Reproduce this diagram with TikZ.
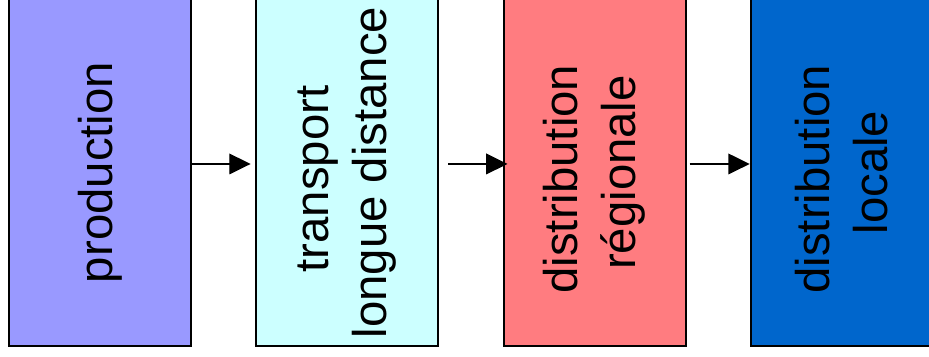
\documentclass[tikz,border=0pt]{standalone}
\usepackage{fontspec}
\setmainfont{Liberation Sans}
\usetikzlibrary{arrows.meta}

\definecolor{prodfill}{HTML}{9999FF}
\definecolor{transfill}{HTML}{CCFFFF}
\definecolor{regfill}{HTML}{FF7C80}
\definecolor{locfill}{HTML}{0066CC}

\tikzset{
  stage/.style={draw, line width=1.5pt, inner sep=0pt,
    minimum width=136.5pt, minimum height=260.25pt},
  stagetext/.style={rotate=90, align=center, inner sep=0pt,
    font=\fontsize{35.5pt}{43.5pt}\selectfont},
  flow/.style={line width=1pt, -{Triangle[length=16pt,width=15.5pt]}}
}

\begin{document}
\begin{tikzpicture}[x=0.75pt,y=0.75pt]
  \useasboundingbox (0,0) rectangle (929,357);
  \clip (0,0) rectangle (929,357);

  %Boxes
  \node [stage, fill=prodfill] (prod) at (100.25,184.5) {};
  \node [stage, fill=transfill] (trans) at (347.3,184.5) {};
  \node [stage, fill=regfill] (reg) at (594.5,184.5) {};
  \node [stage, fill=locfill] (loc) at (841.7,184.5) {};

  % Text Nodes
  \node [stagetext] (prodtxt) at (prod.center) {production};
  \node [stagetext] (transtxt) at (trans.center) {transport\kern.28em\\longue distance};
  \node [stagetext] (regtxt) at (reg.center) {distribution\kern.28em\\régionale};
  \node [stagetext] (loctxt) at (loc.center) {distribution\kern.28em\\locale};

  %Arrows
  \draw [flow, shorten >=3.5pt] ([yshift=6.4pt]prod.east) -- ([yshift=6.4pt]trans.west);
  \draw [flow, shorten <=6.75pt, shorten >=-3.75pt] ([yshift=6.4pt]trans.east) -- ([yshift=6.4pt]reg.west);
  \draw [flow, shorten <=2.25pt] ([yshift=6.4pt]reg.east) -- ([yshift=6.4pt]loc.west);
\end{tikzpicture}
\end{document}
